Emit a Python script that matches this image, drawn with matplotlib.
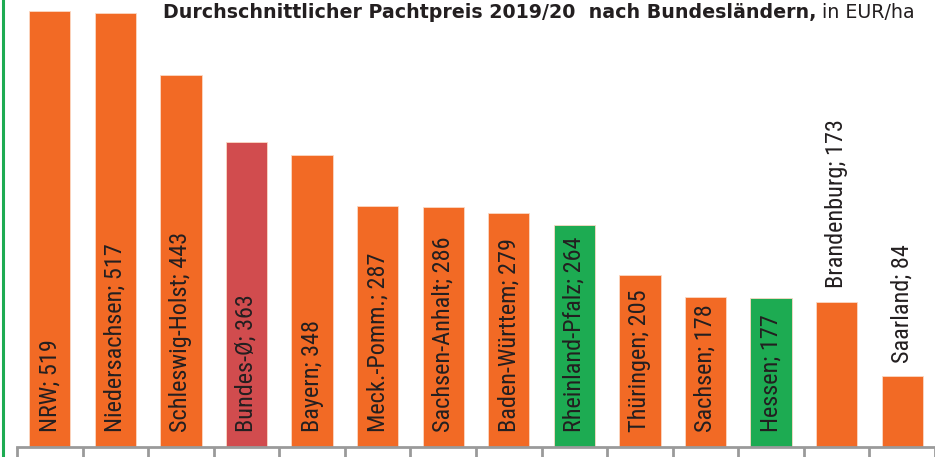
import matplotlib
matplotlib.use('Agg')
import matplotlib.pyplot as plt
from matplotlib.text import Annotation

laender = ['NRW', 'Niedersachsen', 'Schleswig-Holst', 'Bundes-Ø', 'Bayern',
           'Meck.-Pomm.', 'Sachsen-Anhalt', 'Baden-Württem', 'Rheinland-Pfalz',
           'Thüringen', 'Sachsen', 'Hessen', 'Brandenburg', 'Saarland']
pachtpreis = [519, 517, 443, 363, 348, 287, 286, 279, 264, 205, 178, 177, 173, 84]
farbe_typ = ['o', 'o', 'o', 'r', 'o', 'o', 'o', 'o', 'g', 'o', 'o', 'g', 'o', 'o']
label_oben = [False] * 12 + [True, True]

farben = {'o': '#F26A25', 'r': '#D14C4E', 'g': '#1DAB52'}
text_col = '#231F20'
fam = ['Roboto Condensed', 'Roboto', 'DejaVu Sans']
fam_titel = ['DejaVu Sans']

fig = plt.figure(figsize=(9.35, 4.57), dpi=100)
ax = fig.add_axes([17 / 935, 10 / 457, 918 / 935, 447 / 457])

x = list(range(len(laender)))
ax.bar(x, pachtpreis, width=0.63, color=[farben[c] for c in farbe_typ],
       edgecolor='#FBD9C4', linewidth=0.6, zorder=2)

for i, (name, wert) in enumerate(zip(laender, pachtpreis)):
    y0 = wert + 16 if label_oben[i] else 18
    ax.text(i, y0, f'{name}; {wert}', rotation=90, ha='center', va='bottom',
            fontsize=17.5, color=text_col, family=fam, zorder=3)

ax.set_xlim(-0.5, len(laender) - 0.5)
ax.set_ylim(0, 532)
for s in ['top', 'right', 'left']:
    ax.spines[s].set_visible(False)
ax.spines['bottom'].set_color('#9A9A9A')
ax.spines['bottom'].set_linewidth(2)
ax.set_yticks([])
ax.set_xticks([i - 0.5 for i in range(len(laender) + 1)])
ax.set_xticklabels([])
ax.tick_params(axis='x', direction='out', length=9, width=2, color='#9A9A9A')

# linke grüne Rahmenlinie
fig.add_artist(plt.Line2D([3 / 935, 3 / 935], [0, 1], color='#1DAB52', lw=2.2))

t_norm = fig.text(915 / 935, 1 - 18 / 457, ' in EUR/ha', ha='right', va='baseline',
                  fontsize=13.7, color=text_col, family=fam_titel)
t_bold = Annotation('Durchschnittlicher Pachtpreis 2019/20  nach Bundesländern,',
                    xy=(0, 0), xycoords=t_norm, ha='right', va='bottom',
                    fontsize=13.7, fontweight='bold', color=text_col, family=fam_titel)
fig.add_artist(t_bold)

fig.savefig('out.png', dpi=100, facecolor='white')
